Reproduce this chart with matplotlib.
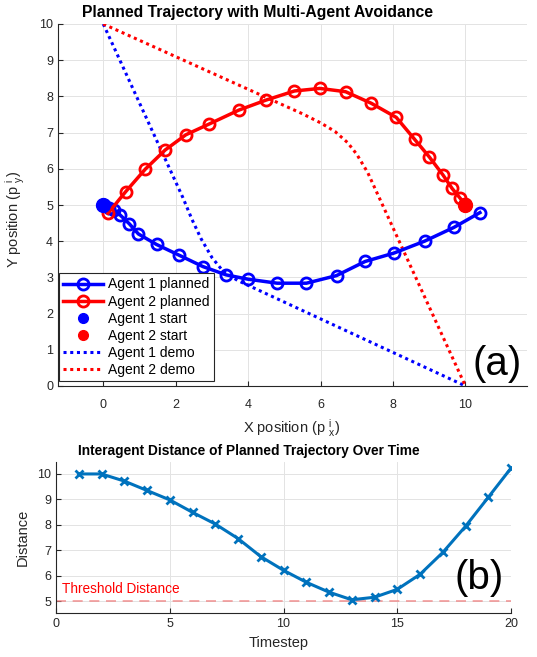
import numpy as np
import matplotlib
matplotlib.use("Agg")
import matplotlib.pyplot as plt
from matplotlib.lines import Line2D

plt.rcParams['font.family'] = ['Liberation Sans', 'DejaVu Sans']
plt.rcParams['mathtext.fontset'] = 'custom'
plt.rcParams['mathtext.rm'] = 'Liberation Sans'
plt.rcParams['mathtext.it'] = 'Liberation Sans'

# ---------------- data ----------------
agent1_x = [0.0, 0.02, 0.15, 0.31, 0.47, 0.72, 0.97, 1.47, 2.08, 2.75, 3.39, 4.00,
            4.80, 5.61, 6.44, 7.23, 8.02, 8.87, 9.68, 10.40]
agent1_y = [5.0, 4.99, 4.93, 4.86, 4.72, 4.48, 4.20, 3.91, 3.62, 3.30, 3.07, 2.95,
            2.84, 2.84, 3.05, 3.44, 3.67, 4.00, 4.38, 4.79]
agent2_x = [10.0, 10.0, 9.86, 9.63, 9.38, 9.00, 8.60, 8.09, 7.40, 6.69, 5.98, 5.28,
            4.50, 3.74, 2.93, 2.28, 1.71, 1.16, 0.62, 0.13]
agent2_y = [5.0, 5.03, 5.18, 5.46, 5.83, 6.33, 6.81, 7.42, 7.81, 8.13, 8.22, 8.15,
            7.90, 7.62, 7.24, 6.94, 6.52, 5.99, 5.37, 4.77]
agent1_start = (0.0, 5.0)
agent2_start = (10.0, 5.0)

demo1_x = [0.0, 2.2, 2.45, 2.7, 3.0, 3.3, 3.7, 10.0]
demo1_y = [10.0, 5.2, 4.6, 4.07, 3.55, 3.18, 2.92, 0.0]
demo2_x = [0.0, 5.5, 6.0, 6.4, 6.75, 7.0, 7.15, 7.3, 10.0]
demo2_y = [10.0, 7.52, 7.27, 7.03, 6.72, 6.40, 6.15, 5.9, 0.0]

timesteps = list(range(1, 21))
distance = [10.0, 10.0, 9.72, 9.35, 8.98, 8.49, 8.03, 7.46, 6.75, 6.21,
            5.74, 5.35, 5.05, 5.15, 5.46, 6.05, 6.91, 7.94, 9.08, 10.23]
threshold = 5.0

# ---------------- figure ----------------
W, H = 537, 657
fig = plt.figure(figsize=(W / 100, H / 100), dpi=100)

def style(ax):
    for s in ['top', 'right']:
        ax.spines[s].set_visible(False)
    for s in ['left', 'bottom']:
        ax.spines[s].set_color('#262626')
        ax.spines[s].set_linewidth(0.8)
    ax.tick_params(direction='in', length=3.5, width=0.8, colors='#262626',
                   labelsize=9, labelcolor='#262626')
    ax.grid(True, color='#e3e3e3', linewidth=0.7)
    ax.set_axisbelow(True)

# top axes
ax1 = fig.add_axes([58 / W, 1 - 386 / H, (527 - 58) / W, (386 - 24) / H])
style(ax1)
ax1.tick_params(axis='x', pad=9)
ax1.plot(demo1_x, demo1_y, ls=(0, (1, 1.2)), color='blue', lw=2.2, zorder=2)
ax1.plot(demo2_x, demo2_y, ls=(0, (1, 1.2)), color='red', lw=2.2, zorder=2)
ax1.plot(agent1_x, agent1_y, '-o', color='blue', lw=2.5, ms=8, mfc='none', mew=2,
         zorder=3)
ax1.plot(agent2_x, agent2_y, '-o', color='red', lw=2.5, ms=8, mfc='none', mew=2,
         zorder=3)
ax1.plot([agent1_start[0]], [agent1_start[1]], 'o', color='blue', ms=10, zorder=4)
ax1.plot([agent2_start[0]], [agent2_start[1]], 'o', color='red', ms=10, zorder=4)
ax1.set_xlim(-1.25, 11.7)
ax1.set_ylim(0, 10)
ax1.set_xticks([0, 2, 4, 6, 8, 10])
ax1.set_yticks(range(0, 11))
ax1.set_xlabel(r'X position (p $^{\mathrm{i}}_{\mathrm{x}}$)', fontsize=10.5,
               color='#262626')
ax1.set_ylabel(r'Y position (p $^{\mathrm{i}}_{\mathrm{y}}$)', fontsize=10.5,
               color='#262626')
ax1.xaxis.set_label_coords(0.497, -0.085)
ax1.yaxis.set_label_coords(-0.066, 0.46)
ax1.text(11.55, 0.6, '(a)', fontsize=29, ha='right', va='center', color='black')

handles = [
    Line2D([], [], color='blue', lw=2.5, marker='o', ms=8, mfc='none', mew=2),
    Line2D([], [], color='red', lw=2.5, marker='o', ms=8, mfc='none', mew=2),
    Line2D([], [], color='blue', ls='none', marker='o', ms=7),
    Line2D([], [], color='red', ls='none', marker='o', ms=7),
    Line2D([], [], color='blue', ls=(0, (1, 1.2)), lw=2.2),
    Line2D([], [], color='red', ls=(0, (1, 1.2)), lw=2.2),
]
labels = ['Agent 1 planned', 'Agent 2 planned', 'Agent 1 start', 'Agent 2 start',
          'Agent 1 demo', 'Agent 2 demo']
leg = ax1.legend(handles, labels, loc='lower left', bbox_to_anchor=(0.002, 0.014),
                 borderaxespad=0, fontsize=10, frameon=True, fancybox=False,
                 edgecolor='#262626', framealpha=1, handlelength=2.9,
                 handletextpad=0.35, labelspacing=0.22, borderpad=0.3)
leg.get_frame().set_linewidth(0.8)

fig.text(257 / W, 1 - 12 / H, 'Planned Trajectory with Multi-Agent Avoidance',
         fontsize=11.3, fontweight='bold', ha='center', va='center')

# bottom axes
ax2 = fig.add_axes([56 / W, 1 - 613 / H, (511 - 56) / W, (613 - 462) / H])
style(ax2)
ax2.axhline(threshold, color='#f08080', ls='--', lw=1.2, dashes=(6, 4), alpha=0.8,
            zorder=2)
ax2.plot(timesteps, distance, '-x', color='#0072BD', lw=2.2, ms=6, mew=2, zorder=3)
ax2.set_xlim(0, 20)
ax2.set_ylim(4.53, 10.47)
ax2.set_xticks([0, 5, 10, 15, 20])
ax2.set_yticks([5, 6, 7, 8, 9, 10])
ax2.set_xlabel('Timestep', fontsize=10.5, color='#262626')
ax2.set_ylabel('Distance', fontsize=10.5, color='#262626')
ax2.xaxis.set_label_coords(0.49, -0.155)
ax2.yaxis.set_label_coords(-0.058, 0.5)
ax2.text(0.25, 5.47, 'Threshold Distance', color='red', fontsize=9.8,
         ha='left', va='center')
ax2.text(19.7, 5.9, '(b)', fontsize=29, ha='right', va='center', color='black')

fig.text(249 / W, 1 - 451 / H, 'Interagent Distance of Planned Trajectory Over Time',
         fontsize=9.9, fontweight='bold', ha='center', va='center')

fig.savefig('out.png', dpi=100)
